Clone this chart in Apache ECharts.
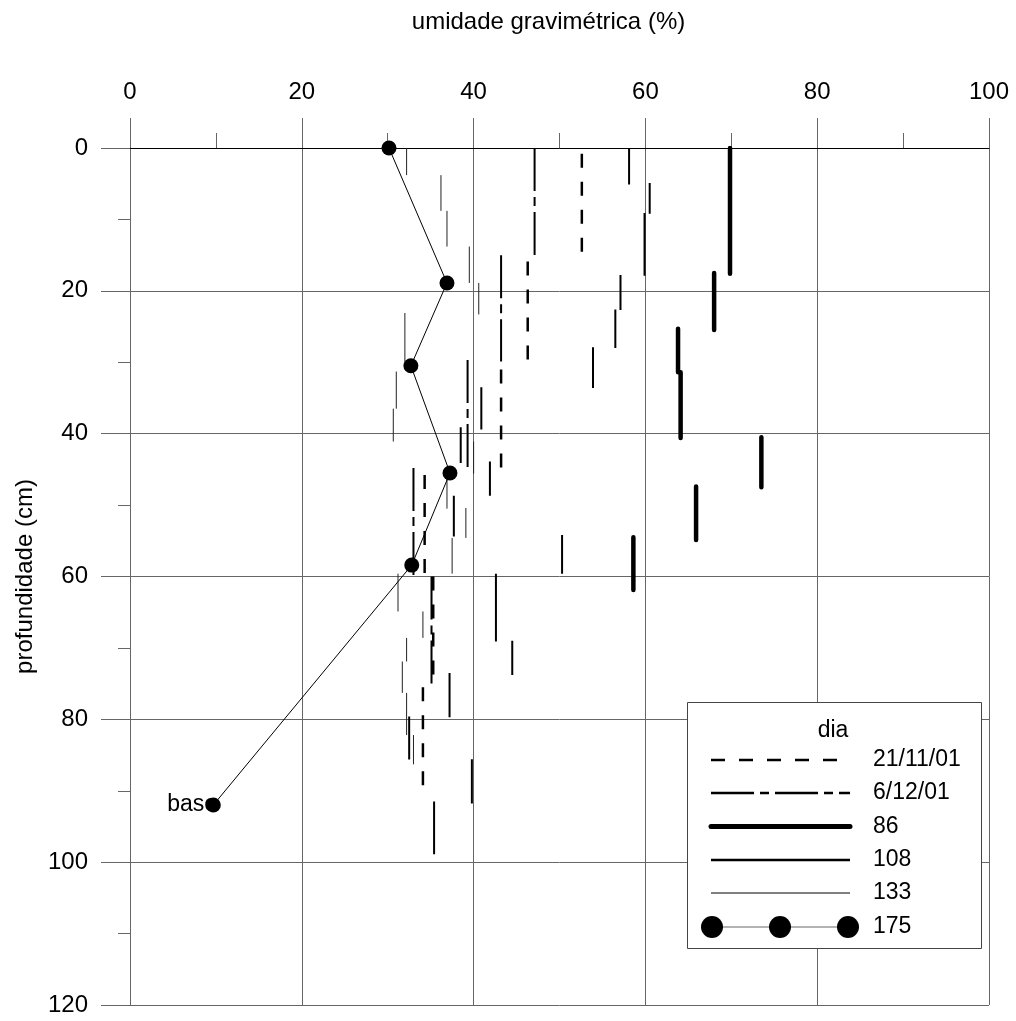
<!DOCTYPE html>
<html><head><meta charset="utf-8">
<script src="https://cdn.jsdelivr.net/npm/echarts@6/dist/echarts.min.js"></script>
<style>html,body{margin:0;padding:0;background:#fff}#c{width:1016px;height:1021px}</style>
</head><body><div id="c"></div>
<script>
// Series names (legend "dia")
const seriesNames = ['21/11/01', '6/12/01', '86', '108', '133', '175'];
const legendTitle = 'dia';
const xTitle = 'umidade gravimétrica (%)';
const yTitle = 'profundidade (cm)';
// Each layer: [moisture %, top depth cm, bottom depth cm]
const d211101 = [[52.6, 0.8, 15.2], [46.3, 15.9, 30.0], [43.2, 31.0, 45.0], [34.3, 45.8, 60.0], [35.3, 60.0, 75.0], [34.1, 75.5, 90.3]];
const d61201 = [[47.1, 0, 15.2], [43.2, 15.0, 29.9], [39.3, 29.7, 45.0], [33.0, 44.8, 60.0], [35.1, 60.0, 75.0], [32.5, 79.6, 85.7]];
const d86 = [[69.85, 0, 17.6], [68.0, 17.5, 25.5], [63.8, 25.3, 31.4], [64.1, 31.4, 40.6], [73.5, 40.5, 47.5], [65.9, 47.4, 54.9], [58.6, 54.5, 61.9]];
const d108 = [[58.1, 0, 5.1], [60.5, 4.9, 9.2], [59.9, 9.1, 17.9], [57.1, 17.8, 22.7], [56.5, 22.6, 28.0], [53.9, 27.9, 33.6], [40.9, 33.5, 39.4], [38.5, 39.1, 44.1], [41.9, 43.9, 48.7], [37.7, 48.7, 54.4], [50.3, 54.2, 59.6], [42.6, 59.6, 69.1], [44.5, 69.0, 73.8], [37.2, 73.5, 79.7], [39.8, 85.6, 91.8], [35.4, 91.5, 98.9]];
const d133 = [[32.2, 0, 3.8], [36.2, 3.8, 8.8], [36.9, 8.8, 13.8], [39.5, 13.8, 18.9], [40.6, 18.9, 23.3], [32.0, 23.1, 30.0], [31.0, 31.3, 36.5], [30.65, 36.5, 41.1], [40.0, 41.1, 45.6], [36.9, 46.0, 50.5], [39.1, 50.4, 54.6], [37.5, 54.6, 59.6], [31.2, 59.6, 64.9], [34.1, 64.9, 68.6], [32.2, 68.6, 71.9], [31.7, 71.9, 76.3], [32.2, 76.3, 82.2], [33.0, 82.2, 86.3]];
const d175 = [[30.15, 0], [36.9, 18.9], [32.7, 30.5], [37.25, 45.5], [32.8, 58.4], [9.7, 92.0]];
const baseLabel = 'base';
const baseIndex = 5;

const FONT = 'Liberation Sans, Arial, Helvetica, sans-serif';

function layers(arr) {
  const out = [];
  arr.forEach((s, i) => {
    if (i) out.push([s[0], '-']);
    out.push([s[0], s[1]]);
    out.push([s[0], s[2]]);
  });
  return out;
}

const styles = [
  { width: 2.5, type: [14, 14], cap: 'butt' },
  { width: 2, type: [43, 6, 9, 6], cap: 'butt' },
  { width: 4.5, type: 'solid', cap: 'round' },
  { width: 2, type: 'solid', cap: 'butt' },
  { width: 1, type: 'solid', cap: 'butt' },
  { width: 1, type: 'solid', cap: 'butt' }
];
const layerData = [d211101, d61201, d86, d108, d133];

const series = layerData.map((arr, i) => ({
  name: seriesNames[i],
  type: 'line',
  data: layers(arr),
  showSymbol: false,
  symbol: 'none',
  connectNulls: false,
  z: 2,
  lineStyle: { color: i === 4 ? '#222' : '#000', width: styles[i].width, type: styles[i].type, cap: styles[i].cap },
  emphasis: { disabled: true },
  animation: false
}));
series.push({
  name: 'baseLabel',
  type: 'scatter',
  data: [d175[baseIndex]],
  symbolSize: 0.5,
  itemStyle: { color: '#000' },
  z: 1,
  label: { show: true, position: 'left', distance: -4, formatter: baseLabel, color: '#000', opacity: 1, fontSize: 23, fontFamily: FONT },
  emphasis: { disabled: true },
  animation: false, silent: true
});
series.push({
  name: seriesNames[5],
  type: 'line',
  data: d175,
  symbol: 'circle',
  symbolSize: 15,
  showSymbol: true,
  z: 5,
  lineStyle: { color: '#000', width: 1 },
  itemStyle: { color: '#000' },
  emphasis: { disabled: true },
  animation: false
});

// Legend drawn with graphic elements
const LX = 687, LY = 702, LW = 294, LH = 246;
const rowY = [760, 793, 826.5, 860, 893, 927];
const graphic = [
  { type: 'rect', shape: { x: LX + 0.5, y: LY + 0.5, width: LW, height: LH }, style: { fill: '#fff', stroke: '#444', lineWidth: 1 }, z: 10 },
  { type: 'text', x: 833, y: 731, style: { text: legendTitle, font: '23px ' + FONT, fill: '#000', textAlign: 'center', textVerticalAlign: 'middle' }, z: 11 }
];
seriesNames.forEach((n, i) => {
  const y = rowY[i];
  if (i < 5) {
    graphic.push({ type: 'line', shape: { x1: 711, y1: y, x2: 850, y2: y }, style: { stroke: '#000', lineWidth: i === 2 ? 5 : (i === 4 ? 1 : 2.5), lineDash: Array.isArray(styles[i].type) ? styles[i].type : null, lineCap: i === 2 ? 'round' : 'butt' }, z: 11 });
  } else {
    graphic.push({ type: 'line', shape: { x1: 712, y1: y, x2: 848, y2: y }, style: { stroke: '#666', lineWidth: 1 }, z: 11 });
    [712, 780, 848].forEach(cx => graphic.push({ type: 'circle', shape: { cx: cx, cy: y, r: 11 }, style: { fill: '#000' }, z: 12 }));
  }
  graphic.push({ type: 'text', x: 873, y: y, style: { text: n, font: '23px ' + FONT, fill: '#000', textAlign: 'left', textVerticalAlign: 'middle' }, z: 11 });
});

const chart = echarts.init(document.getElementById('c'), null, { renderer: 'canvas' });
chart.setOption({
  animation: false,
  backgroundColor: '#fff',
  grid: { left: 130, top: 148, right: 27, bottom: 16, containLabel: false },
  xAxis: {
    type: 'value', position: 'top', min: 0, max: 100, interval: 20,
    name: xTitle, nameLocation: 'middle', nameGap: 114,
    nameTextStyle: { fontSize: 24, fontFamily: FONT, color: '#000', padding: [0, 22, 0, 0] },
    axisLine: { show: true, lineStyle: { color: '#000', width: 1 } },
    axisTick: { show: true, length: 30, lineStyle: { color: '#666' } },
    minorTick: { show: true, splitNumber: 2, length: 15, lineStyle: { color: '#666' } },
    splitLine: { show: true, lineStyle: { color: '#666', width: 1 } },
    axisLabel: { fontSize: 24, fontFamily: FONT, color: '#000', margin: 44 }
  },
  yAxis: {
    type: 'value', inverse: true, min: 0, max: 120, interval: 20,
    name: yTitle, nameLocation: 'middle', nameGap: 93,
    nameTextStyle: { fontSize: 24, fontFamily: FONT, color: '#000' },
    axisLine: { show: true, lineStyle: { color: '#666', width: 1 } },
    axisTick: { show: true, length: 29, lineStyle: { color: '#666' } },
    minorTick: { show: true, splitNumber: 2, length: 12, lineStyle: { color: '#666' } },
    splitLine: { show: true, lineStyle: { color: '#666', width: 1 } },
    axisLabel: { fontSize: 24, fontFamily: FONT, color: '#000', margin: 42 }
  },
  series: series,
  graphic: graphic
});
</script>
</body></html>
